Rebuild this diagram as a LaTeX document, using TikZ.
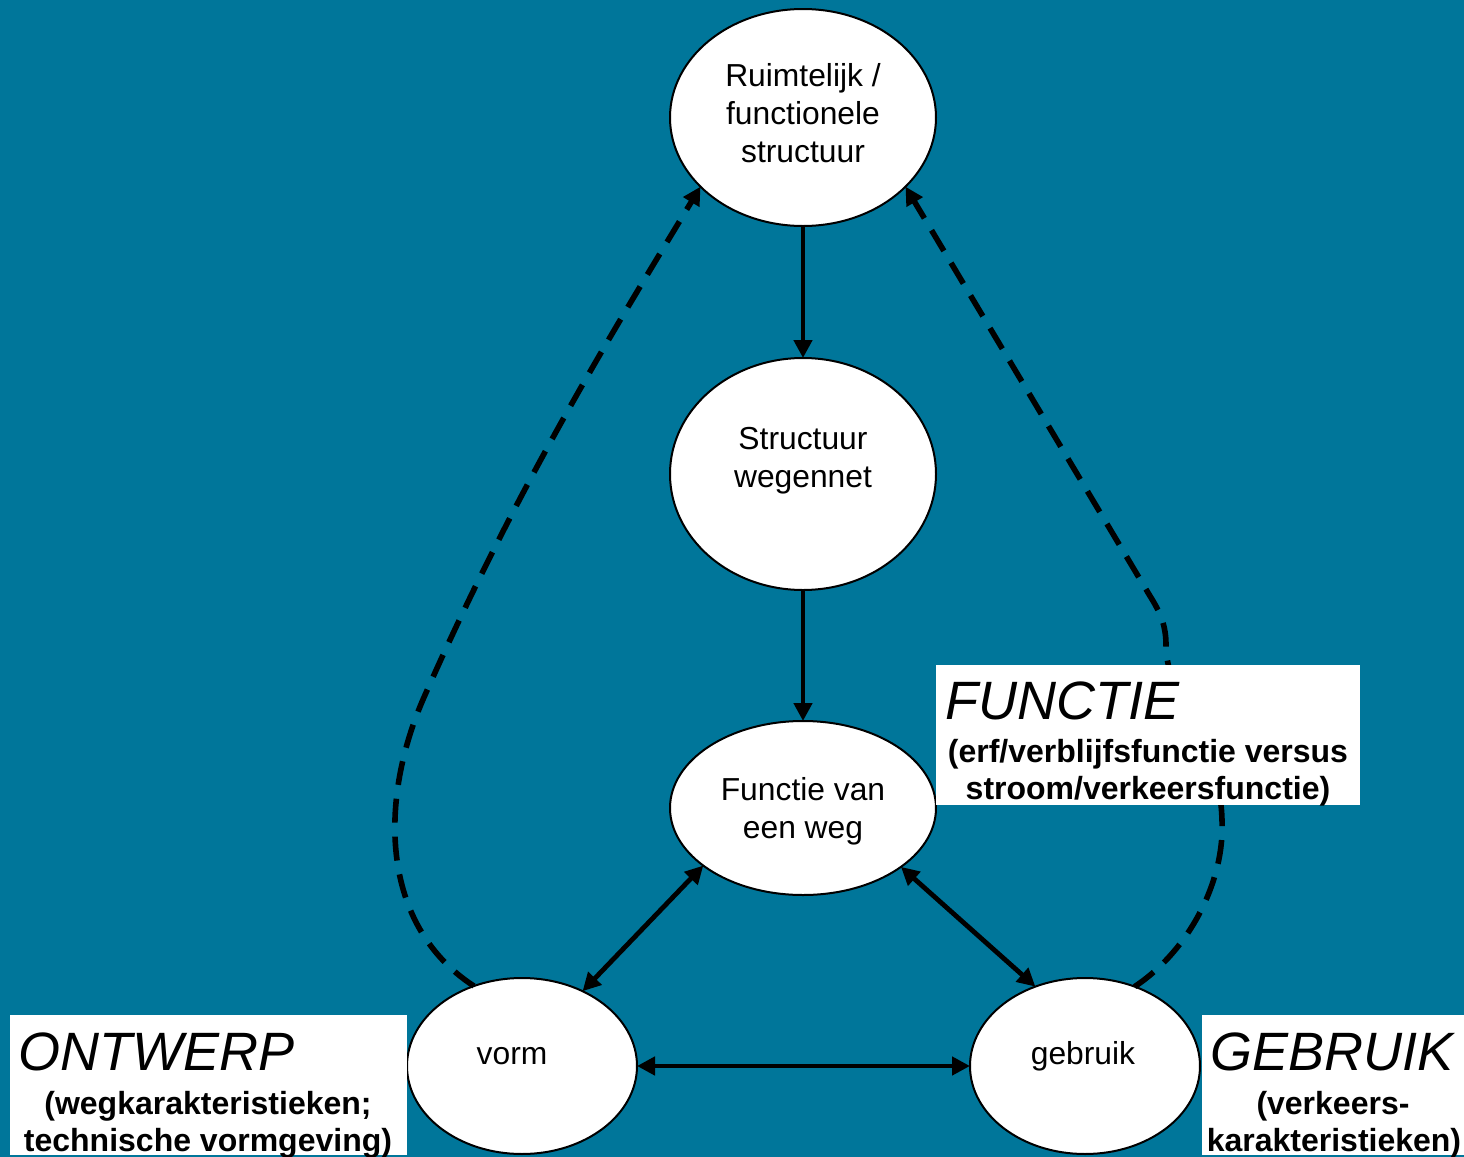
\documentclass[tikz,border=0pt]{standalone}
\usepackage{fontspec}
\setmainfont{Liberation Sans}
\usetikzlibrary{shapes.geometric,arrows.meta}
\definecolor{bgteal}{RGB}{0,118,154}
\begin{document}
\begin{tikzpicture}[x=0.5pt,y=-0.5pt,
  ell/.style={ellipse,draw=black,line width=1pt,fill=white,inner sep=0pt,outer sep=0pt},
  etext/.style={align=center,font=\fontsize{15.9}{19}\selectfont,inner sep=0pt},
  solidarrow/.style={line width=2.4pt,-{Triangle[length=9pt,width=9pt]}},
  bothway/.style={line width=2.4pt,{Triangle[length=9pt,width=9pt]}-{Triangle[length=9pt,width=9pt]}},
  dasharrow/.style={line width=2.8pt,dash pattern=on 12pt off 7pt,-{Triangle[length=9pt,width=9pt]}},
  labelbox/.style={fill=white,inner sep=0pt,outer sep=0pt},
  bigtitle/.style={font=\fontsize{27}{33}\selectfont\itshape,anchor=base west,inner sep=0pt},
  subtitle/.style={font=\fontsize{16}{19}\selectfont\bfseries,anchor=base,inner sep=0pt}
]
\useasboundingbox (0,0) rectangle (1464,1157);
\fill[bgteal] (0,0) rectangle (1464,1157);

% ellipses
\node[ell,minimum width=133pt,minimum height=108.5pt] (rfs) at (803,117.5) {};
\node[ell,minimum width=133pt,minimum height=116pt] (sw) at (803,474) {};
\node[ell,minimum width=133pt,minimum height=87pt] (fw) at (803,808) {};
\node[ell,minimum width=115pt,minimum height=88pt] (vorm) at (522,1066) {};
\node[ell,minimum width=115pt,minimum height=88pt] (gebr) at (1085,1066) {};

% dashed feedback curves
\draw[dasharrow] (vorm.121.7) .. controls (380,925) and (378,800) .. (425,695)
  .. controls (520,480) and (620,320) .. (rfs.214.2);
\draw[dasharrow] (gebr.58.3) .. controls (1190,950) and (1225,880) .. (1222,820)
  .. controls (1220,740) and (1166,700) .. (1166,645)
  .. controls (1166,625) and (1160,612) .. (1150,596) -- (rfs.326.3);

% solid arrows
\draw[solidarrow] (rfs.south) -- (sw.north);
\draw[solidarrow] (sw.south) -- (fw.north);
\draw[bothway] (fw.210.7) -- (vorm.51.8);
\draw[bothway] (fw.329.5) -- (gebr.122.3);
\draw[bothway] (vorm.east) -- (gebr.west);

% ellipse texts
\node[etext] (trfs) at (803,113) {Ruimtelijk /\\functionele\\structuur};
\node[etext] (tsw) at (803,461) {Structuur\\wegennet};
\node[etext] (tfw) at (803,811) {Functie van\\een weg};
\node[etext] (tvorm) at (512,1056) {vorm};
\node[etext] (tgebr) at (1083,1056) {gebruik};

% label boxes
\node[labelbox,minimum width=212pt,minimum height=70pt] (fbox) at (1148,735) {};
\node[bigtitle] (ftitle) at (945,719) {FUNCTIE};
\node[subtitle] (fsub1) at (1148,762) {(erf/verblijfsfunctie versus};
\node[subtitle] (fsub2) at (1148,799) {stroom/verkeersfunctie)};

\node[labelbox,minimum width=198.5pt,minimum height=70pt] (obox) at (208.5,1085) {};
\node[bigtitle] (otitle) at (18,1070) {ONTWERP};
\node[subtitle] (osub1) at (208,1114) {(wegkarakteristieken;};
\node[subtitle] (osub2) at (208,1151) {technische vormgeving)};

\node[labelbox,minimum width=131pt,minimum height=70pt] (gbox) at (1333,1085) {};
\node[bigtitle] (gtitle) at (1210,1070) {GEBRUIK};
\node[subtitle] (gsub1) at (1333,1114) {(verkeers-};
\node[subtitle] (gsub2) at (1334,1151) {karakteristieken)};
\end{tikzpicture}
\end{document}
